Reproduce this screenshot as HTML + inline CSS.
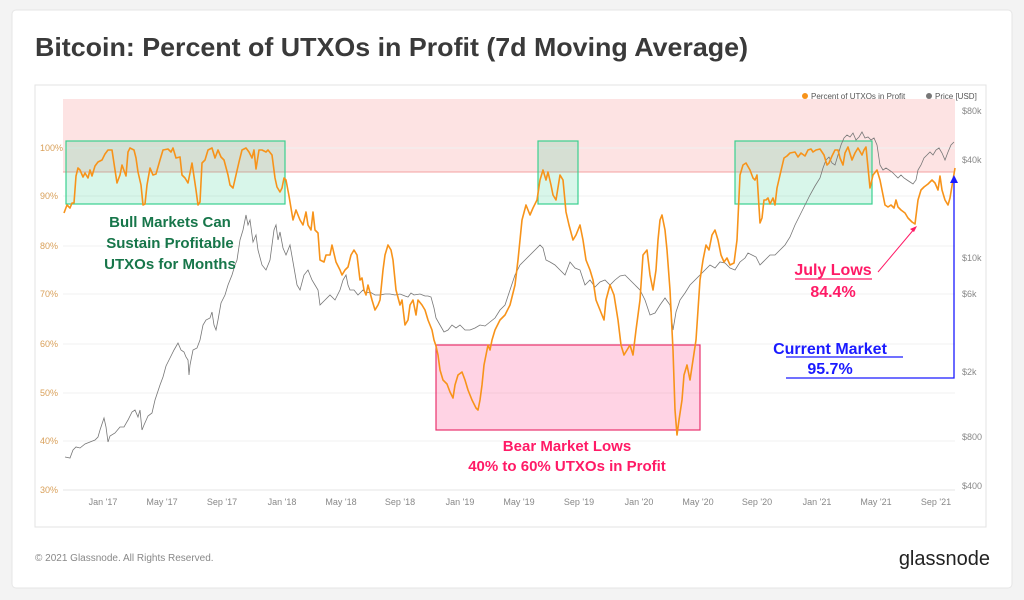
<!DOCTYPE html>
<html><head><meta charset="utf-8"><style>
body{margin:0;width:1024px;height:600px;background:#f3f3f3;font-family:"Liberation Sans",sans-serif;overflow:hidden}
</style></head><body>
<svg width="1024" height="600" xmlns="http://www.w3.org/2000/svg" style="position:absolute;left:0;top:0">
<rect x="12" y="10" width="1000" height="578" rx="4" fill="#fff" stroke="#e6e6e6"/>
<text x="35" y="56" font-size="26" font-weight="bold" fill="#3a3a3a" font-family="Liberation Sans" textLength="713" lengthAdjust="spacingAndGlyphs">Bitcoin: Percent of UTXOs in Profit (7d Moving Average)</text>
<rect x="35" y="85" width="951" height="442" fill="#fff" stroke="#e3e3e3"/>
<rect x="63" y="99" width="892" height="73" fill="#fde3e3"/>
<line x1="63" y1="172" x2="955" y2="172" stroke="#f4a0a0" stroke-width="1"/>
<g stroke="#f0f0f0" stroke-width="1">
<line x1="63" y1="148" x2="955" y2="148"/><line x1="63" y1="196" x2="955" y2="196"/><line x1="63" y1="246" x2="955" y2="246"/><line x1="63" y1="294" x2="955" y2="294"/><line x1="63" y1="344" x2="955" y2="344"/><line x1="63" y1="393" x2="955" y2="393"/><line x1="63" y1="441" x2="955" y2="441"/>
</g>
<line x1="63" y1="490" x2="955" y2="490" stroke="#e6e6e6"/>
<g font-size="9" fill="#d9a05a">
<text x="40" y="151">100%</text><text x="40" y="199">90%</text><text x="40" y="249">80%</text><text x="40" y="297">70%</text><text x="40" y="347">60%</text><text x="40" y="396">50%</text><text x="40" y="444">40%</text><text x="40" y="493">30%</text></g>
<g font-size="9" fill="#888">
<text x="962" y="114">$80k</text><text x="962" y="163">$40k</text><text x="962" y="261">$10k</text><text x="962" y="297">$6k</text><text x="962" y="375">$2k</text><text x="962" y="440">$800</text><text x="962" y="489">$400</text></g>
<g font-size="9" fill="#888" text-anchor="middle">
<text x="103" y="505">Jan '17</text><text x="162" y="505">May '17</text><text x="222" y="505">Sep '17</text><text x="282" y="505">Jan '18</text><text x="341" y="505">May '18</text><text x="400" y="505">Sep '18</text><text x="460" y="505">Jan '19</text><text x="519" y="505">May '19</text><text x="579" y="505">Sep '19</text><text x="639" y="505">Jan '20</text><text x="698" y="505">May '20</text><text x="757" y="505">Sep '20</text><text x="817" y="505">Jan '21</text><text x="876" y="505">May '21</text><text x="936" y="505">Sep '21</text></g>
<circle cx="805" cy="96" r="3" fill="#f7931a"/><text x="811" y="99" font-size="8" fill="#555">Percent of UTXOs in Profit</text>
<circle cx="929" cy="96" r="3" fill="#777"/><text x="935" y="99" font-size="8" fill="#555">Price [USD]</text>
<rect x="66" y="141" width="219" height="63" fill="rgba(60,210,150,0.2)" stroke="#3ad08f" stroke-width="1.2"/>
<rect x="538" y="141" width="40" height="63" fill="rgba(60,210,150,0.2)" stroke="#3ad08f" stroke-width="1.2"/>
<rect x="735" y="141" width="137" height="63" fill="rgba(60,210,150,0.2)" stroke="#3ad08f" stroke-width="1.2"/>
<rect x="436" y="345" width="264" height="85" fill="rgba(255,110,165,0.3)" stroke="#e8336d" stroke-width="1.2"/>
<polyline fill="none" stroke="#777" stroke-width="0.8" points="65,457 70,458 73,450 76,447 80,448 85,444 90,442 95,440 98,437 100,430 104,418 106,427 108,442 110,436 115,433 120,427 124,427 128,420 132,412 135,410 138,417 140,410 142,430 144,425 148,416 152,413 155,400 160,385 163,377 166,366 170,358 174,350 178,343 181,350 184,352 186,357 188,360 189,375 190,365 193,350 197,348 200,340 203,325 206,320 210,318 212,312 214,325 216,330 218,320 221,303 225,295 228,285 232,275 235,265 237,260 240,240 243,230 246,215 248,225 250,220 253,242 256,235 258,250 262,265 266,270 270,260 274,230 276,225 278,240 280,232 283,248 286,255 290,245 293,262 297,285 300,290 304,275 308,270 312,280 315,285 318,290 320,305 325,300 330,295 335,300 340,290 343,280 346,275 348,285 350,290 354,290 358,295 360,293 363,290 366,293 370,292 375,295 380,295 385,294 390,294 395,295 400,294 405,296 408,297 411,293 414,295 420,294 425,296 428,296 431,297 434,308 436,318 440,325 444,332 448,330 452,325 456,328 460,325 465,330 470,330 475,328 480,325 485,326 490,322 495,318 500,310 505,305 510,290 515,275 520,265 525,260 530,255 535,250 540,245 543,248 546,260 550,262 555,265 560,270 565,275 570,262 575,268 580,270 585,285 590,280 595,287 600,282 605,280 610,285 615,280 620,276 625,275 630,280 635,285 640,290 645,300 650,315 655,313 660,305 665,298 670,305 673,330 676,312 680,300 685,293 690,285 695,280 700,275 705,270 710,265 715,268 720,262 725,263 730,268 735,270 740,262 745,258 748,253 752,255 756,257 760,265 765,260 770,255 775,255 780,250 785,245 790,237 795,225 800,215 805,205 810,195 815,186 820,178 823,168 826,160 829,157 832,163 835,165 838,155 841,145 844,138 847,135 850,137 853,133 856,140 859,137 862,132 865,138 868,137 871,140 874,138 877,145 880,165 883,170 886,168 889,170 892,172 895,175 898,178 901,175 904,178 907,180 910,182 913,184 916,180 918,170 921,165 924,158 927,155 930,152 933,155 936,150 939,148 942,153 945,160 948,152 951,145 954,142"/>
<polyline fill="none" stroke="#f7931a" stroke-width="1.6" stroke-linejoin="round" points="64,213 67,205 70,208 72,203 74,203 76,176 78,168 80,170 83,177 85,173 88,178 90,170 92,176 95,166 98,162 102,160 105,154 108,150 112,150 115,170 117,183 120,175 122,165 126,176 128,152 130,148 134,150 136,158 138,172 141,185 143,205 145,204 147,185 150,168 153,175 156,174 160,160 163,150 168,149 171,152 173,148 176,158 180,157 182,175 185,178 188,183 192,163 196,190 198,205 200,202 202,163 205,160 208,150 212,148 215,158 218,150 221,157 224,160 228,175 230,185 233,188 236,175 239,162 242,150 246,148 249,152 252,158 254,150 256,169 259,150 262,150 266,152 268,150 272,155 275,178 277,187 280,192 282,188 284,178 286,180 289,196 293,220 296,210 300,220 303,225 306,212 308,225 311,230 313,212 315,230 318,233 320,260 324,262 326,255 330,255 332,245 336,262 340,270 342,275 345,270 348,267 351,255 354,250 357,255 360,280 362,278 364,290 366,295 368,285 372,300 375,310 378,305 380,300 383,270 385,255 388,245 391,250 393,260 396,290 400,305 402,300 405,325 408,320 410,305 413,300 416,315 418,300 422,305 425,310 428,320 430,325 432,330 434,340 436,346 438,355 440,370 443,380 447,384 450,392 453,398 455,385 458,375 462,372 465,380 468,390 472,400 476,408 478,410 480,400 482,385 484,365 486,355 488,345 490,350 492,340 495,330 500,320 505,315 510,305 515,285 518,260 522,220 526,205 530,215 533,208 537,200 540,180 543,170 546,180 548,172 551,185 553,195 556,200 560,175 563,180 566,212 569,225 573,240 576,235 580,225 583,240 586,260 590,270 593,280 596,300 600,310 604,320 606,300 610,285 614,295 618,320 621,345 624,355 627,350 630,345 633,355 636,330 640,300 643,255 647,250 650,275 653,290 656,270 658,240 660,220 662,215 665,230 667,250 670,290 673,350 675,410 677,435 679,420 682,400 684,375 687,365 690,380 693,360 696,340 698,310 700,280 703,260 706,245 709,250 712,235 715,230 718,240 721,255 724,262 727,258 730,265 734,263 737,240 740,175 743,165 746,163 750,170 753,178 755,180 757,175 760,223 762,218 764,200 766,200 768,198 770,204 773,198 775,205 777,188 780,175 784,158 787,156 790,153 795,152 798,157 801,153 805,156 808,150 811,149 813,152 816,150 820,149 824,155 827,165 829,163 832,156 835,150 838,150 840,158 843,165 845,153 848,147 852,160 855,153 858,148 862,155 864,150 866,147 870,188 873,175 877,170 880,180 882,190 885,205 888,207 891,205 894,208 896,200 898,207 901,210 905,213 908,218 912,222 915,224 918,200 921,190 924,187 928,184 932,180 935,183 938,190 940,176 942,190 945,200 948,205 950,198 953,180 955,168"/>
<g font-size="15" font-weight="bold" fill="#17764a" text-anchor="middle">
<text x="170" y="227">Bull Markets Can</text><text x="170" y="248">Sustain Profitable</text><text x="170" y="269">UTXOs for Months</text></g>
<g font-size="15" fill="#ff1a66" text-anchor="middle" font-weight="bold">
<text x="567" y="451">Bear Market Lows</text><text x="567" y="471">40% to 60% UTXOs in Profit</text></g>
<g font-size="16" fill="#ff1a66" text-anchor="middle" font-weight="bold">
<text x="833" y="275">July Lows</text><text x="833" y="297">84.4%</text></g>
<line x1="795" y1="279" x2="872" y2="279" stroke="#ff1a66" stroke-width="1.2"/>
<line x1="878" y1="272" x2="915" y2="228" stroke="#ff1a66" stroke-width="1"/>
<path d="M917,226 l-7,3 l4,3z" fill="#ff1a66"/>
<g font-size="16" fill="#1a1aff" text-anchor="middle" font-weight="bold">
<text x="830" y="354">Current Market</text><text x="830" y="374">95.7%</text></g>
<line x1="786" y1="357" x2="903" y2="357" stroke="#1a1aff" stroke-width="1.2"/>
<polyline points="786,378 954,378 954,180" fill="none" stroke="#1a1aff" stroke-width="1.3"/>
<path d="M954,175 l-4,8 h8z" fill="#1a1aff"/>
<text x="35" y="561" font-size="10" fill="#888">© 2021 Glassnode. All Rights Reserved.</text>
<text x="990" y="565" font-size="20" fill="#222" text-anchor="end">glassnode</text>
</svg>
</body></html>
